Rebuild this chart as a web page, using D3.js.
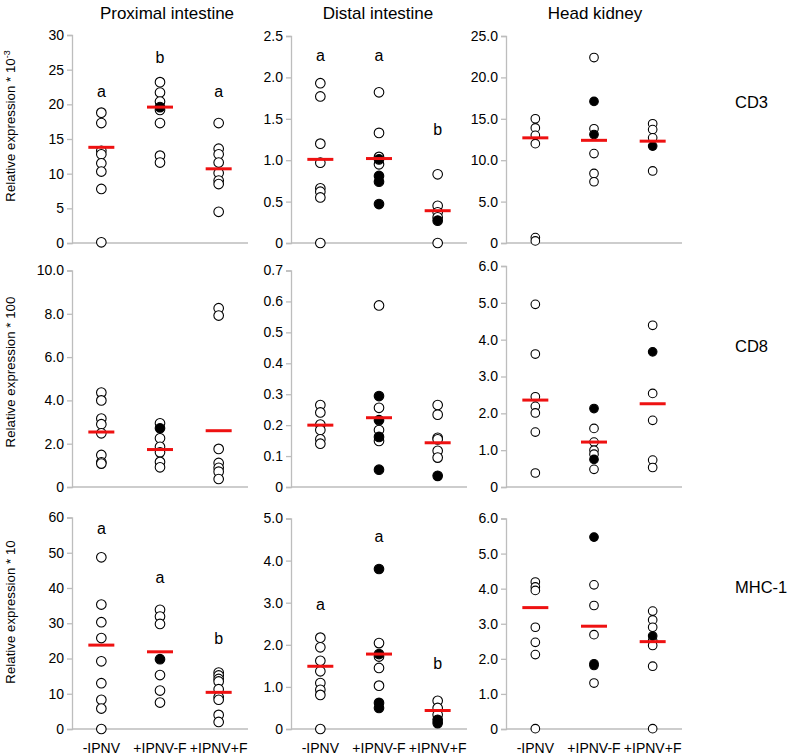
<!DOCTYPE html>
<html>
<head>
<meta charset="utf-8">
<script src="https://cdn.jsdelivr.net/npm/d3@7/dist/d3.min.js"></script>
<style>
  body { margin: 0; background: #fff; }
  svg { display: block; }
  text { font-family: "Liberation Sans", Arial, sans-serif; fill: #000; }
</style>
</head>
<body>
<svg id="chart" width="790" height="756"></svg>
<script>
// ---------------- DATA ----------------
const groups = ["-IPNV", "+IPNV-F", "+IPNV+F"];
const tissues = ["Proximal intestine", "Distal intestine", "Head kidney"];
const genes = ["CD3", "CD8", "MHC-1"];
const yLabelMain = ["Relative expression * 10", "Relative expression * 100", "Relative expression * 10"];
const yLabelSup = ["-3", "", ""];

// y-axis maxima and tick steps per [gene][tissue]
const yMax = [[30, 2.5, 25], [10, 0.7, 6], [60, 5, 6]];
const yStep = [[5, 0.5, 5], [2, 0.1, 1], [10, 1, 1]];
const yDecimals = [[0, 1, 1], [1, 1, 1], [0, 1, 1]];

// CD3
const cd3ProxOpen   = [[18.8, 17.3, 13.3, 12.8, 11.5, 10.3, 7.8, 0.1], [23.2, 21.7, 20.4, 19.2, 17.3, 12.6, 11.6], [17.3, 13.6, 12.8, 11.6, 10.1, 9.0, 8.5, 4.5]];
const cd3ProxFilled = [[], [19.6], []];
const cd3ProxMean   = [13.8, 19.6, 10.7];
const cd3ProxLetters = [["a", 21.1], ["b", 25.9], ["a", 21.1]];

const cd3DistOpen   = [[1.93, 1.77, 1.20, 0.97, 0.66, 0.62, 0.55, 0.0], [1.82, 1.33, 1.04, 0.95], [0.83, 0.45, 0.37, 0.31, 0.0]];
const cd3DistFilled = [[], [1.01, 0.81, 0.74, 0.47], [0.27]];
const cd3DistMean   = [1.01, 1.02, 0.39];
const cd3DistLetters = [["a", 2.2], ["a", 2.2], ["b", 1.31]];

const cd3HkOpen   = [[15.0, 13.9, 13.0, 12.0, 0.65, 0.25], [22.4, 13.8, 10.8, 8.4, 7.4], [14.4, 13.7, 12.7, 8.7]];
const cd3HkFilled = [[], [17.1, 13.1], [11.7]];
const cd3HkMean   = [12.7, 12.4, 12.3];
const cd3HkLetters = [];

// CD8
const cd8ProxOpen   = [[4.36, 4.0, 3.16, 2.9, 2.48, 1.48, 1.14, 1.08], [2.94, 2.25, 1.86, 1.6, 1.16, 0.91], [8.26, 7.92, 1.76, 1.11, 0.89, 0.71, 0.37]];
const cd8ProxFilled = [[], [2.71], []];
const cd8ProxMean   = [2.54, 1.73, 2.6];
const cd8ProxLetters = [];

const cd8DistOpen   = [[0.265, 0.241, 0.202, 0.184, 0.154, 0.14], [0.587, 0.256, 0.184, 0.149], [0.265, 0.234, 0.159, 0.154, 0.117, 0.095]];
const cd8DistFilled = [[], [0.294, 0.216, 0.162, 0.056], [0.036]];
const cd8DistMean   = [0.2, 0.224, 0.143];
const cd8DistLetters = [];

const cd8HkOpen   = [[4.96, 3.61, 2.45, 2.19, 2.01, 1.49, 0.38], [1.59, 1.22, 1.0, 0.89, 0.48], [4.39, 2.54, 1.81, 0.73, 0.53]];
const cd8HkFilled = [[], [2.13, 0.75], [3.67]];
const cd8HkMean   = [2.36, 1.22, 2.26];
const cd8HkLetters = [];

// MHC-1
const mhcProxOpen   = [[48.7, 35.3, 30.3, 25.8, 19.2, 13.0, 8.3, 5.8, 0.0], [33.8, 31.9, 29.8, 15.3, 10.9, 7.5], [16.0, 15.2, 14.2, 13.5, 11.3, 9.1, 8.3, 4.0, 2.0]];
const mhcProxFilled = [[], [19.8], []];
const mhcProxMean   = [23.8, 21.9, 10.4];
const mhcProxLetters = [["a", 55.3], ["a", 41.3], ["b", 24.1]];

const mhcDistOpen   = [[2.17, 1.94, 1.62, 1.37, 1.09, 0.93, 0.81, 0.0], [2.04, 1.72, 1.45, 1.03], [0.67, 0.5, 0.34]];
const mhcDistFilled = [[], [3.8, 1.78, 0.62, 0.5], [0.22, 0.14]];
const mhcDistMean   = [1.49, 1.78, 0.44];
const mhcDistLetters = [["a", 2.83], ["a", 4.43], ["b", 1.43]];

const mhcHkOpen   = [[4.19, 4.05, 3.95, 2.9, 2.47, 2.12, 0.01], [4.11, 3.52, 2.69, 1.31], [3.36, 3.11, 2.9, 2.52, 2.38, 1.79, 0.01]];
const mhcHkFilled = [[], [5.47, 1.86, 1.81], [2.65]];
const mhcHkMean   = [3.46, 2.93, 2.49];
const mhcHkLetters = [];

const panelOpen = [[cd3ProxOpen, cd3DistOpen, cd3HkOpen], [cd8ProxOpen, cd8DistOpen, cd8HkOpen], [mhcProxOpen, mhcDistOpen, mhcHkOpen]];
const panelFilled = [[cd3ProxFilled, cd3DistFilled, cd3HkFilled], [cd8ProxFilled, cd8DistFilled, cd8HkFilled], [mhcProxFilled, mhcDistFilled, mhcHkFilled]];
const panelMean = [[cd3ProxMean, cd3DistMean, cd3HkMean], [cd8ProxMean, cd8DistMean, cd8HkMean], [mhcProxMean, mhcDistMean, mhcHkMean]];
const panelLetters = [[cd3ProxLetters, cd3DistLetters, cd3HkLetters], [cd8ProxLetters, cd8DistLetters, cd8HkLetters], [mhcProxLetters, mhcDistLetters, mhcHkLetters]];

// ---------------- LAYOUT ----------------
const colX = [72, 291, 506];
const panelW = 176;
const rowTop = [[35, 36, 36], [270.5, 270.5, 266], [517.5, 518.5, 518.5]];
const rowBottom = [243, 487, 729];
const titleX = [167, 378, 595];
const yLabelCenter = [126, 372, 612];
const geneLabelY = [108, 352, 593];

const svg = d3.select("#chart");
const axisColor = "#bdbdbd";

tissues.forEach((t, c) => {
  svg.append("text").attr("x", titleX[c]).attr("y", 18.5)
    .attr("text-anchor", "middle").attr("font-size", 17).text(t);
});

genes.forEach((g, r) => {
  svg.append("text").attr("x", 735).attr("y", geneLabelY[r])
    .attr("font-size", 16.5).text(g);
  const yl = svg.append("text")
    .attr("transform", `translate(15,${yLabelCenter[r]}) rotate(-90)`)
    .attr("text-anchor", "middle").attr("font-size", 13.3);
  yl.append("tspan").text(yLabelMain[r]);
  if (yLabelSup[r]) yl.append("tspan").attr("font-size", 9).attr("dy", -5).text(yLabelSup[r]);
});

for (let r = 0; r < 3; r++) {
  for (let c = 0; c < 3; c++) {
    const x0 = colX[c];
    const x = d3.scaleBand().domain(groups).range([x0, x0 + panelW]);
    const y = d3.scaleLinear().domain([0, yMax[r][c]]).range([rowBottom[r], rowTop[r][c]]);
    const ticks = d3.range(0, yMax[r][c] + yStep[r][c] / 2, yStep[r][c]);
    const dec = yDecimals[r][c];
    const yAxis = d3.axisLeft(y).tickValues(ticks).tickSize(5).tickPadding(3)
      .tickFormat(v => Math.abs(v) < 1e-9 ? "0" : d3.format("." + dec + "f")(v));
    const ag = svg.append("g").attr("transform", `translate(${x0},0)`).call(yAxis);
    ag.select(".domain").attr("stroke", axisColor).attr("stroke-width", 1.3);
    ag.selectAll(".tick line").attr("stroke", axisColor).attr("stroke-width", 1.3);
    ag.selectAll(".tick text").attr("font-size", 14).attr("fill", "#000")
      .attr("font-family", "Liberation Sans, Arial, sans-serif");

    // x baseline
    svg.append("line").attr("x1", x0).attr("x2", x0 + panelW)
      .attr("y1", rowBottom[r]).attr("y2", rowBottom[r])
      .attr("stroke", axisColor).attr("stroke-width", 1.5);

    const cx = gname => x(gname) + x.bandwidth() / 2;
    const rad = c === 2 ? 4.3 : 4.8;

    const openPts = [], filledPts = [];
    groups.forEach((gname, gi) => {
      panelOpen[r][c][gi].forEach(v => openPts.push({ g: gname, v }));
      panelFilled[r][c][gi].forEach(v => filledPts.push({ g: gname, v }));
    });

    svg.append("g").selectAll("circle").data(openPts).join("circle")
      .attr("cx", d => cx(d.g)).attr("cy", d => y(d.v)).attr("r", rad)
      .attr("fill", "#fff").attr("stroke", "#000").attr("stroke-width", 1.1);
    svg.append("g").selectAll("circle").data(filledPts).join("circle")
      .attr("cx", d => cx(d.g)).attr("cy", d => y(d.v)).attr("r", rad)
      .attr("fill", "#000").attr("stroke", "#000").attr("stroke-width", 1.1);

    svg.append("g").selectAll("line").data(groups.map((gname, gi) => ({ g: gname, v: panelMean[r][c][gi] })))
      .join("line")
      .attr("x1", d => cx(d.g) - 13).attr("x2", d => cx(d.g) + 13)
      .attr("y1", d => y(d.v)).attr("y2", d => y(d.v))
      .attr("stroke", "#ee1111").attr("stroke-width", 3);

    svg.append("g").selectAll("text").data(panelLetters[r][c].map((l, gi) => ({ g: groups[gi], t: l[0], v: l[1] })))
      .join("text")
      .attr("x", d => cx(d.g)).attr("y", d => y(d.v))
      .attr("text-anchor", "middle").attr("font-size", 16).text(d => d.t);

    if (r === 2) {
      svg.append("g").selectAll("text").data(groups).join("text")
        .attr("x", d => cx(d)).attr("y", 753)
        .attr("text-anchor", "middle").attr("font-size", 14).text(d => d);
    }
  }
}
</script>
</body>
</html>
